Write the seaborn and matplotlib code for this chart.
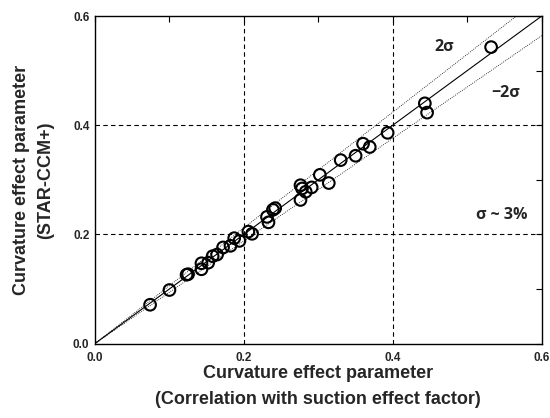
import numpy as np
import pandas as pd
import matplotlib
matplotlib.use("Agg")
import matplotlib.pyplot as plt
import seaborn as sns

# Data
corr_x = [0.074, 0.100, 0.123, 0.125, 0.143, 0.143, 0.152, 0.158, 0.164, 0.172,
          0.182, 0.187, 0.194, 0.206, 0.211, 0.231, 0.233, 0.239, 0.242, 0.276,
          0.276, 0.278, 0.283, 0.291, 0.302, 0.314, 0.330, 0.350, 0.360, 0.369,
          0.393, 0.443, 0.446, 0.532]
star_y = [0.071, 0.098, 0.126, 0.127, 0.147, 0.136, 0.148, 0.160, 0.163, 0.176,
          0.179, 0.193, 0.188, 0.205, 0.201, 0.232, 0.222, 0.245, 0.248, 0.290,
          0.263, 0.284, 0.278, 0.286, 0.309, 0.294, 0.336, 0.344, 0.366, 0.360,
          0.386, 0.440, 0.423, 0.543]
ref_x = [0.0, 0.6]
sigma = 0.03
band_factors = [1 + 2 * sigma, 1 - 2 * sigma]
major_ticks = [0.0, 0.2, 0.4, 0.6]
minor_ticks = [0.1, 0.3, 0.5]
tick_labels = ['0.0', '0.2', '0.4', '0.6']

sns.set_style("white")
plt.rcParams['font.family'] = ['Liberation Sans', 'DejaVu Sans']

fig = plt.figure(figsize=(5.5, 4.18), dpi=100)
ax = fig.add_axes([0.1727, 0.1782, 0.8123, 0.7835])

# grid
for v in [0.2, 0.4]:
    ax.axvline(v, color='black', lw=0.8, ls=(0, (4, 3)), zorder=0)
    ax.axhline(v, color='black', lw=0.8, ls=(0, (4, 3)), zorder=0)

# reference lines
ref_df = pd.DataFrame({'x': ref_x, 'y': ref_x})
sns.lineplot(data=ref_df, x='x', y='y', ax=ax, color='black', lw=0.8, zorder=1)
for f in band_factors:
    band_df = pd.DataFrame({'x': ref_x, 'y': [v * f for v in ref_x]})
    sns.lineplot(data=band_df, x='x', y='y', ax=ax, color='black', lw=0.6,
                 ls=(0, (1, 1.5)), zorder=1)

pts = pd.DataFrame({'x': corr_x, 'y': star_y})
sns.scatterplot(data=pts, x='x', y='y', ax=ax, s=70, facecolor='none',
                edgecolor='black', linewidth=1.5, zorder=3)

ax.set_xlim(0, 0.6)
ax.set_ylim(0, 0.6)
ax.set_xticks(major_ticks)
ax.set_yticks(major_ticks)
ax.set_xticks(minor_ticks, minor=True)
ax.set_yticks(minor_ticks, minor=True)
ax.set_xticklabels(tick_labels, fontweight='bold')
ax.set_yticklabels(tick_labels, fontweight='bold')
ax.tick_params(which='both', direction='in', top=True, right=True,
               length=4, width=0.8, color='black')
ax.tick_params(which='major', labelsize=8.5)
ax.tick_params(axis='x', which='major', pad=6)
ax.tick_params(axis='y', which='major', pad=4)
for s in ax.spines.values():
    s.set_color('black')
    s.set_linewidth(1.0)

ax.set_xlabel('Curvature effect parameter\n(Correlation with suction effect factor)',
              fontsize=13, fontweight='bold', linespacing=1.65)
ax.set_ylabel('Curvature effect parameter\n(STAR-CCM+)',
              fontsize=13, fontweight='bold', linespacing=1.55)
ax.xaxis.label.set_va('top')
ax.xaxis.set_label_coords(0.5, -0.066)
ax.yaxis.set_label_coords(-0.092, 0.5)

ann_font = ['Open Sans', 'DejaVu Sans']
ax.text(0.469, 0.544, '2σ', fontsize=11.5, fontweight='bold', ha='center', va='center', family=ann_font)
ax.text(0.551, 0.459, '−2σ', fontsize=11.5, fontweight='bold', ha='center', va='center', family=ann_font)
ax.text(0.546, 0.235, 'σ ~ 3%', fontsize=11.5, fontweight='bold', ha='center', va='center', family=ann_font)

fig.savefig('out.png', dpi=100)
